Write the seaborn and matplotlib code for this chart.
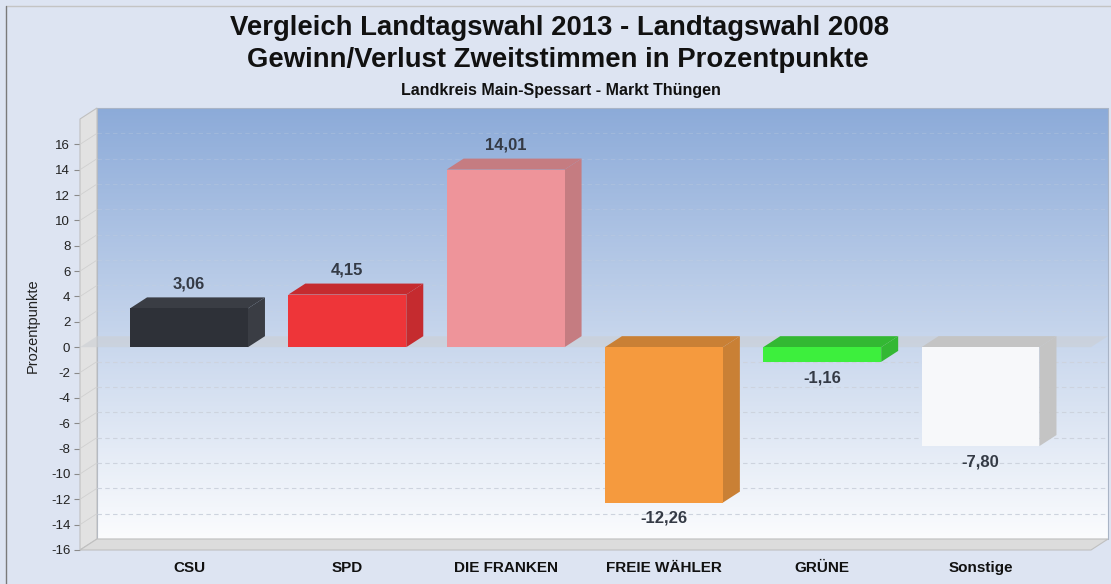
import numpy as np
import pandas as pd
import matplotlib
matplotlib.use("Agg")
import matplotlib.pyplot as plt
import matplotlib.transforms as mtransforms
from matplotlib.patches import Polygon
from matplotlib.lines import Line2D
import seaborn as sns

# ---------------- data ----------------
parties = ["CSU", "SPD", "DIE FRANKEN", "FREIE WÄHLER", "GRÜNE", "Sonstige"]
changes = [3.06, 4.15, 14.01, -12.26, -1.16, -7.80]
front_colors = ["#2e3138", "#ee3539", "#ee949a", "#f59a3e", "#3def3d", "#f7f8fa"]
shade_colors = ["#3a3d44", "#c52b2f", "#c57c81", "#c98035", "#33b833", "#c4c4c4"]
yticks = list(range(-16, 17, 2))
ytick_labels = [str(t) for t in yticks]

title1 = "Vergleich Landtagswahl 2013 - Landtagswahl 2008"
title2 = "Gewinn/Verlust Zweitstimmen in Prozentpunkte"
subtitle = "Landkreis Main-Spessart - Markt Thüngen"
ylabel = "Prozentpunkte"

# ---------------- style ----------------
sns.set_style("white")
plt.rcParams["font.family"] = ["Liberation Sans", "DejaVu Sans"]

W, H, DPI = 1111, 584, 100
fig = plt.figure(figsize=(W / DPI, H / DPI), dpi=DPI, facecolor="#dde4f2")
ax = fig.add_axes([80 / W, (H - 550) / H, 1011 / W, 431 / H])
ax.patch.set_visible(False)

df = pd.DataFrame({"Partei": parties, "Veraenderung": changes})
sns.barplot(data=df, x="Partei", y="Veraenderung", hue="Partei",
            palette=front_colors, saturation=1, width=0.745, legend=False,
            ax=ax, zorder=4, linewidth=0)

XMIN, XMAX, YMIN, YMAX = -0.6886, 5.698, -16, 18
ax.set_xlim(XMIN, XMAX)
ax.set_ylim(YMIN, YMAX)

# depth offset (pixels, display coords: +x right, +y up)
DX, DY = 17, 11
back = ax.transData + mtransforms.ScaledTranslation(DX / DPI, DY / DPI, fig.dpi_scale_trans)
ident = mtransforms.IdentityTransform()


def box_face(p_front_a, p_front_b, color, z, ec="none", lw=0):
    a = ax.transData.transform(p_front_a)
    b = ax.transData.transform(p_front_b)
    verts = [a, b, b + (DX, DY), a + (DX, DY)]
    poly = Polygon(verts, closed=True, transform=ident, facecolor=color,
                   edgecolor=ec, linewidth=lw, zorder=z, clip_on=False)
    ax.add_patch(poly)
    return poly


# back wall gradient
top_c = np.array([0.55, 0.67, 0.85])
bot_c = np.array([0.985, 0.988, 0.995])
t = np.linspace(0, 1, 256)[:, None]
grad = (top_c * (1 - t) + bot_c * t)[:, None, :]
im = ax.imshow(grad, extent=[XMIN, XMAX, YMIN, YMAX], aspect="auto",
               origin="upper", transform=back, zorder=0, clip_on=False,
               interpolation="bilinear")
ax.set_xlim(XMIN, XMAX)
ax.set_ylim(YMIN, YMAX)
ax.plot([XMIN, XMAX, XMAX, XMIN, XMIN], [YMIN, YMIN, YMAX, YMAX, YMIN],
        transform=back, color="#a9b4c6", lw=0.8, zorder=0.5, clip_on=False)

# left wall and floor
box_face((XMIN, YMIN), (XMIN, YMAX), "#e2e2e2", 1, ec="#c0c0c0", lw=0.8)
box_face((XMIN, YMIN), (XMAX, YMIN), "#dcdcdc", 1, ec="#c0c0c0", lw=0.8)

# dashed grid lines on the back wall + diagonals on the left wall
for yt in yticks:
    if yt in (YMIN, 0):
        continue
    alpha = 1.0 if yt < 0 else 0.25
    ax.plot([XMIN, XMAX], [yt, yt], transform=back, color="#cdd3de",
            lw=0.8, ls=(0, (4, 3)), zorder=1.5, clip_on=False, alpha=alpha)
    a = ax.transData.transform((XMIN, yt))
    ax.add_line(Line2D([a[0], a[0] + DX], [a[1], a[1] + DY], transform=ident,
                       color="#d0d0d0", lw=0.6, zorder=1.2))

# zero plane
box_face((XMIN, 0), (XMAX, 0), (0.80, 0.81, 0.83, 0.6), 2)

# 3D faces for bars
for patch, val, sc in zip(ax.patches, changes, shade_colors):
    x0 = patch.get_x()
    x1 = x0 + patch.get_width()
    top = max(val, 0)
    bot = min(val, 0)
    box_face((x1, bot), (x1, top), sc, 3)
    box_face((x0, top), (x1, top), sc, 3)
    lab = f"{val:.2f}".replace(".", ",")
    xc = x0 + patch.get_width() / 2
    if val >= 0:
        ax.annotate(lab, (xc, val), xytext=(0, 12), textcoords="offset points",
                    ha="center", va="bottom", fontsize=12, fontweight="bold",
                    color="#343a45", zorder=6)
    else:
        ax.annotate(lab, (xc, val), xytext=(0, -6), textcoords="offset points",
                    ha="center", va="top", fontsize=12, fontweight="bold",
                    color="#343a45", zorder=6)

# axes decoration
for s in ax.spines.values():
    s.set_visible(False)
ax.set_yticks(yticks, ytick_labels)
ax.tick_params(axis="y", length=4, width=0.8, color="#8a8a8a", pad=3,
               labelsize=9.5, labelcolor="#222222", left=True)
ax.set_xticks(range(len(parties)), parties, fontweight="bold")
ax.tick_params(axis="x", length=0, pad=8, labelsize=11, labelcolor="#111111")
ax.set_xlabel("")
ax.set_ylabel(ylabel, fontsize=10.5, color="#222222")
ax.yaxis.set_label_coords((40 - 80) / 1011, (550 - 326) / 431)
ax.grid(False)

# titles
fig.text(0.504, 1 - 28 / H, title1, ha="center", va="center",
         fontsize=19.8, fontweight="bold", color="#111111")
fig.text(0.502, 1 - 60 / H, title2, ha="center", va="center",
         fontsize=19.8, fontweight="bold", color="#111111")
fig.text(0.505, 1 - 90 / H, subtitle, ha="center", va="center",
         fontsize=11.5, fontweight="bold", color="#111111")

# window frame lines
fig.add_artist(Line2D([6 / W, 1], [1 - 6 / H, 1 - 6 / H], transform=fig.transFigure,
                      color="#c4c4c4", lw=1))
fig.add_artist(Line2D([6 / W, 6 / W], [0, 1 - 6 / H], transform=fig.transFigure,
                      color="#7a7a7a", lw=1))

fig.savefig("out.png", dpi=DPI, facecolor=fig.get_facecolor())
